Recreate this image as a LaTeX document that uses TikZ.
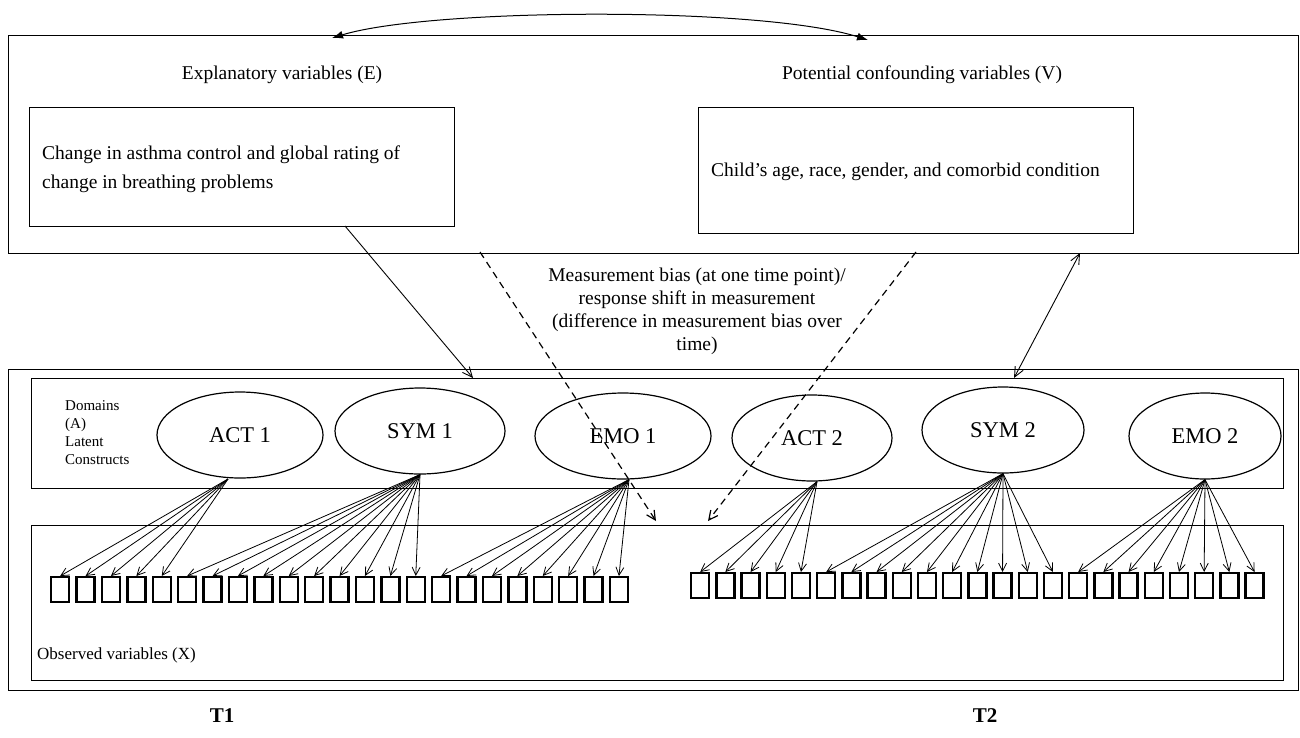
\documentclass[tikz,border=0pt]{standalone}
\usepackage{fontspec}
\setmainfont{Liberation Serif}
\usetikzlibrary{shapes.geometric,arrows.meta}
\begin{document}
\begin{tikzpicture}[x=1pt,y=-1pt,
  frame/.style={draw,line width=1.4pt,inner sep=0pt,anchor=north west},
  lat/.style={draw,ellipse,line width=1.2pt,inner sep=0pt,font=\fontsize{22.5}{25}\selectfont},
  obs/.style={draw,line width=2.3pt,minimum width=18pt,minimum height=25pt,inner sep=0pt,anchor=north west},
  load/.style={-{Straight Barb[length=8pt,width=8pt]},line width=0.8pt},
  dasharr/.style={-{Straight Barb[length=9pt,width=9pt]},line width=1.2pt,dash pattern=on 7pt off 5pt},
  solidarr/.style={line width=0.9pt},
  big/.style={inner sep=0pt,font=\fontsize{19.5}{29}\selectfont},
  small/.style={inner sep=0pt,font=\fontsize{15}{18}\selectfont,align=left,anchor=north west},
  tlbl/.style={inner sep=0pt,font=\fontsize{21}{24}\selectfont\bfseries}
]
\useasboundingbox (0,0) rectangle (1300,737);
% top frame
\node[frame,minimum width=1290pt,minimum height=218pt] (top) at (8,35) {};
\node[big] (ehead) at (282,75) {Explanatory variables (E)};
\node[big] (vhead) at (922,75) {Potential confounding variables (V)};
\node[frame,minimum width=425pt,minimum height=119pt] (ebox) at (29,107) {};
\node[big,anchor=north west,align=left] (etext) at (42,146) {Change in asthma control and global rating of\\change in breathing problems};
\node[frame,minimum width=435pt,minimum height=126pt] (vbox) at (698,107) {};
\node[big,anchor=west] (vtext) at (711,172) {Child’s age, race, gender, and comorbid condition};
% top curved arrow
\coordinate (c1) at (332,38);
\coordinate (c2) at (868,40);
\draw[{Latex[length=11pt,width=8pt]}-{Latex[length=11pt,width=8pt]},line width=1pt] (c1) .. controls (430,8) and (760,6) .. (c2);
% measurement text
\node[inner sep=0pt,align=center,font=\fontsize{19.5}{23}\selectfont] (meas) at (697,311) {Measurement bias (at one time point)/\\response shift in measurement\\(difference in measurement bias over\\time)};
% bottom frames
\node[frame,minimum width=1290pt,minimum height=321pt] (bot) at (8,369) {};
\node[frame,minimum width=1252pt,minimum height=110pt] (dom) at (31,378) {};
\node[frame,minimum width=1252pt,minimum height=155pt] (obsbox) at (31,525) {};
\node[small] (domtxt) at (65,400) {Domains\\(A)\\Latent\\Constructs};
\node[inner sep=0pt,font=\fontsize{17}{20}\selectfont,anchor=west] (obstxt) at (37,655) {Observed variables (X)};
% ellipses
\node[lat,minimum width=166pt,minimum height=86pt] (act1) at (240,435) {ACT 1};
\node[lat,minimum width=170pt,minimum height=86pt] (sym1) at (420,431) {SYM 1};
\node[lat,minimum width=176pt,minimum height=86pt] (emo1) at (623,436) {EMO 1};
\node[lat,minimum width=160pt,minimum height=86pt] (act2) at (812,438) {ACT 2};
\node[lat,minimum width=162pt,minimum height=86pt] (sym2) at (1003,430) {SYM 2};
\node[lat,minimum width=152pt,minimum height=86pt] (emo2) at (1205,436) {EMO 2};
% observed boxes
\foreach \i in {0,...,22}{
  \node[obs] (a\i) at ({50+25.4*\i},576) {};
}
\foreach \i in {0,...,22}{
  \node[obs] (b\i) at ({690+25.2*\i},572) {};
}
% loadings
\coordinate (act1s) at (228,479);
\foreach \i in {0,...,4}{\draw[load] (act1s) -- (a\i.north);}
\foreach \i in {5,...,14}{\draw[load] (sym1.south) -- (a\i.north);}
\foreach \i in {15,...,22}{\draw[load] ([xshift=6pt]emo1.south) -- (a\i.north);}
\foreach \i in {0,...,4}{\draw[load] ([xshift=5pt]act2.south) -- (b\i.north);}
\foreach \i in {5,...,14}{\draw[load] (sym2.south) -- (b\i.north);}
\foreach \i in {15,...,22}{\draw[load] (emo2.south) -- (b\i.north);}
% arrows between blocks
\coordinate (es) at (345,226);
\coordinate (et) at (473,378);
\draw[solidarr,-{Straight Barb[length=10pt,width=9pt]}] (es) -- (et);
\coordinate (vs) at (1080,253);
\coordinate (vt) at (1014,378);
\draw[solidarr,{Straight Barb[length=10pt,width=9pt]}-{Straight Barb[length=10pt,width=9pt]}] (vs) -- (vt);
\coordinate (d1s) at (480,252);
\coordinate (d1t) at (656,521);
\draw[dasharr] (d1s) -- (d1t);
\coordinate (d2s) at (916,252);
\coordinate (d2t) at (708,521);
\draw[dasharr] (d2s) -- (d2t);
% T labels
\node[tlbl] (t1) at (222,716) {T1};
\node[tlbl] (t2) at (985,716) {T2};
\end{tikzpicture}
\end{document}
